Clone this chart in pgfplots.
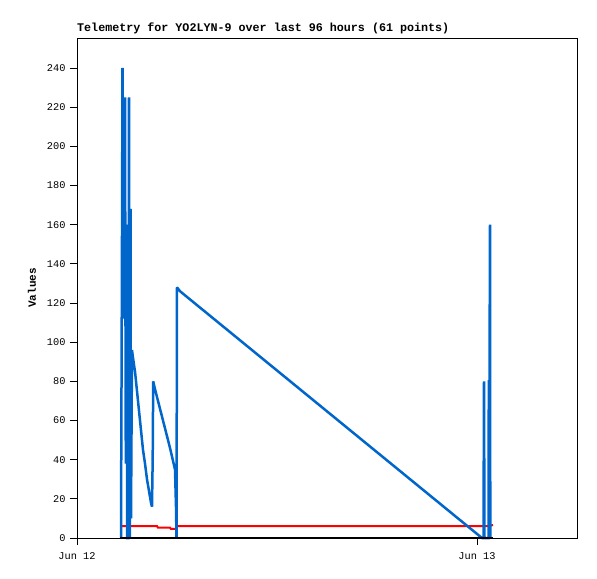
\documentclass[border=0pt]{standalone}
\usepackage{fontspec}
\setmainfont{Liberation Mono}
\usepackage{pgfplots}
\pgfplotsset{compat=1.18}
\definecolor{tblue}{RGB}{0,102,204}
\begin{document}
\begin{tikzpicture}[x=1bp,y=1bp]
\useasboundingbox (-77bp,-41bp) rectangle (520bp,538bp);
\begin{axis}[
  at={(0,0)}, anchor=south west,
  scale only axis, width=500bp, height=500bp,
  xmin=0, xmax=30, ymin=0, ymax=255.3,
  xtick={0,24}, xticklabels={Jun 12,Jun 13},
  ytick={0,20,...,240},
  tick align=outside, xtick pos=left, ytick pos=left,
  major tick length=7bp,
  tick style={black, line width=0.8pt},
  axis line style={black, line width=0.8pt},
  /pgf/number format/assume math mode=true,
  ticklabel style={font=\fontsize{10.3bp}{12bp}\selectfont},
  yticklabel style={xshift=-1bp},
  xticklabel style={yshift=-4bp},
  title={\textbf{Telemetry for YO2LYN-9 over last 96 hours (61 points)}},
  title style={at={(axis description cs:0,1)}, anchor=base west, yshift=1bp, inner sep=0pt, font=\fontsize{11.7bp}{13bp}\selectfont},
  ylabel={\textbf{Values}},
  ylabel style={at={(axis description cs:-0.09,0.5)}, anchor=center, font=\fontsize{11bp}{12bp}\selectfont},
  clip=false,
]
\addplot[red, line width=2bp] coordinates {
(2.64,6.1) (4.80,6.1) (4.86,5.3) (5.58,5.3) (5.64,4.6) (5.94,4.6) (6.00,6.1) (24.48,6.1) (24.60,6.1) (24.96,6.6)
};
\addplot[tblue, line width=2.5bp, line join=miter, miter limit=3] coordinates {
(2.64,0) (2.658,48) (2.688,120) (2.73,240) (2.778,112) (2.82,187) (2.85,120) (2.88,225) (2.928,38) (2.97,160) (3.012,0) (3.09,0) (3.12,225) (3.168,0) (3.21,168) (3.24,10) (3.30,96) (3.36,92) (3.48,85) (3.60,75) (3.72,65) (3.84,55) (3.96,45) (4.08,38) (4.20,30) (4.32,24) (4.44,18) (4.50,16) (4.542,41) (4.572,80) (4.68,76) (4.98,66) (5.28,56) (5.58,46) (5.88,35) (5.94,16) (5.97,0) (6.00,128) (6.18,126) (24.30,0) (24.39,0) (24.42,80) (24.45,0) (24.69,0) (24.708,80) (24.75,80) (24.78,160) (24.798,0)
};
\addplot[black, line width=2bp] coordinates {
(2.58,0) (24.96,0)
};
\end{axis}
\end{tikzpicture}
\end{document}
